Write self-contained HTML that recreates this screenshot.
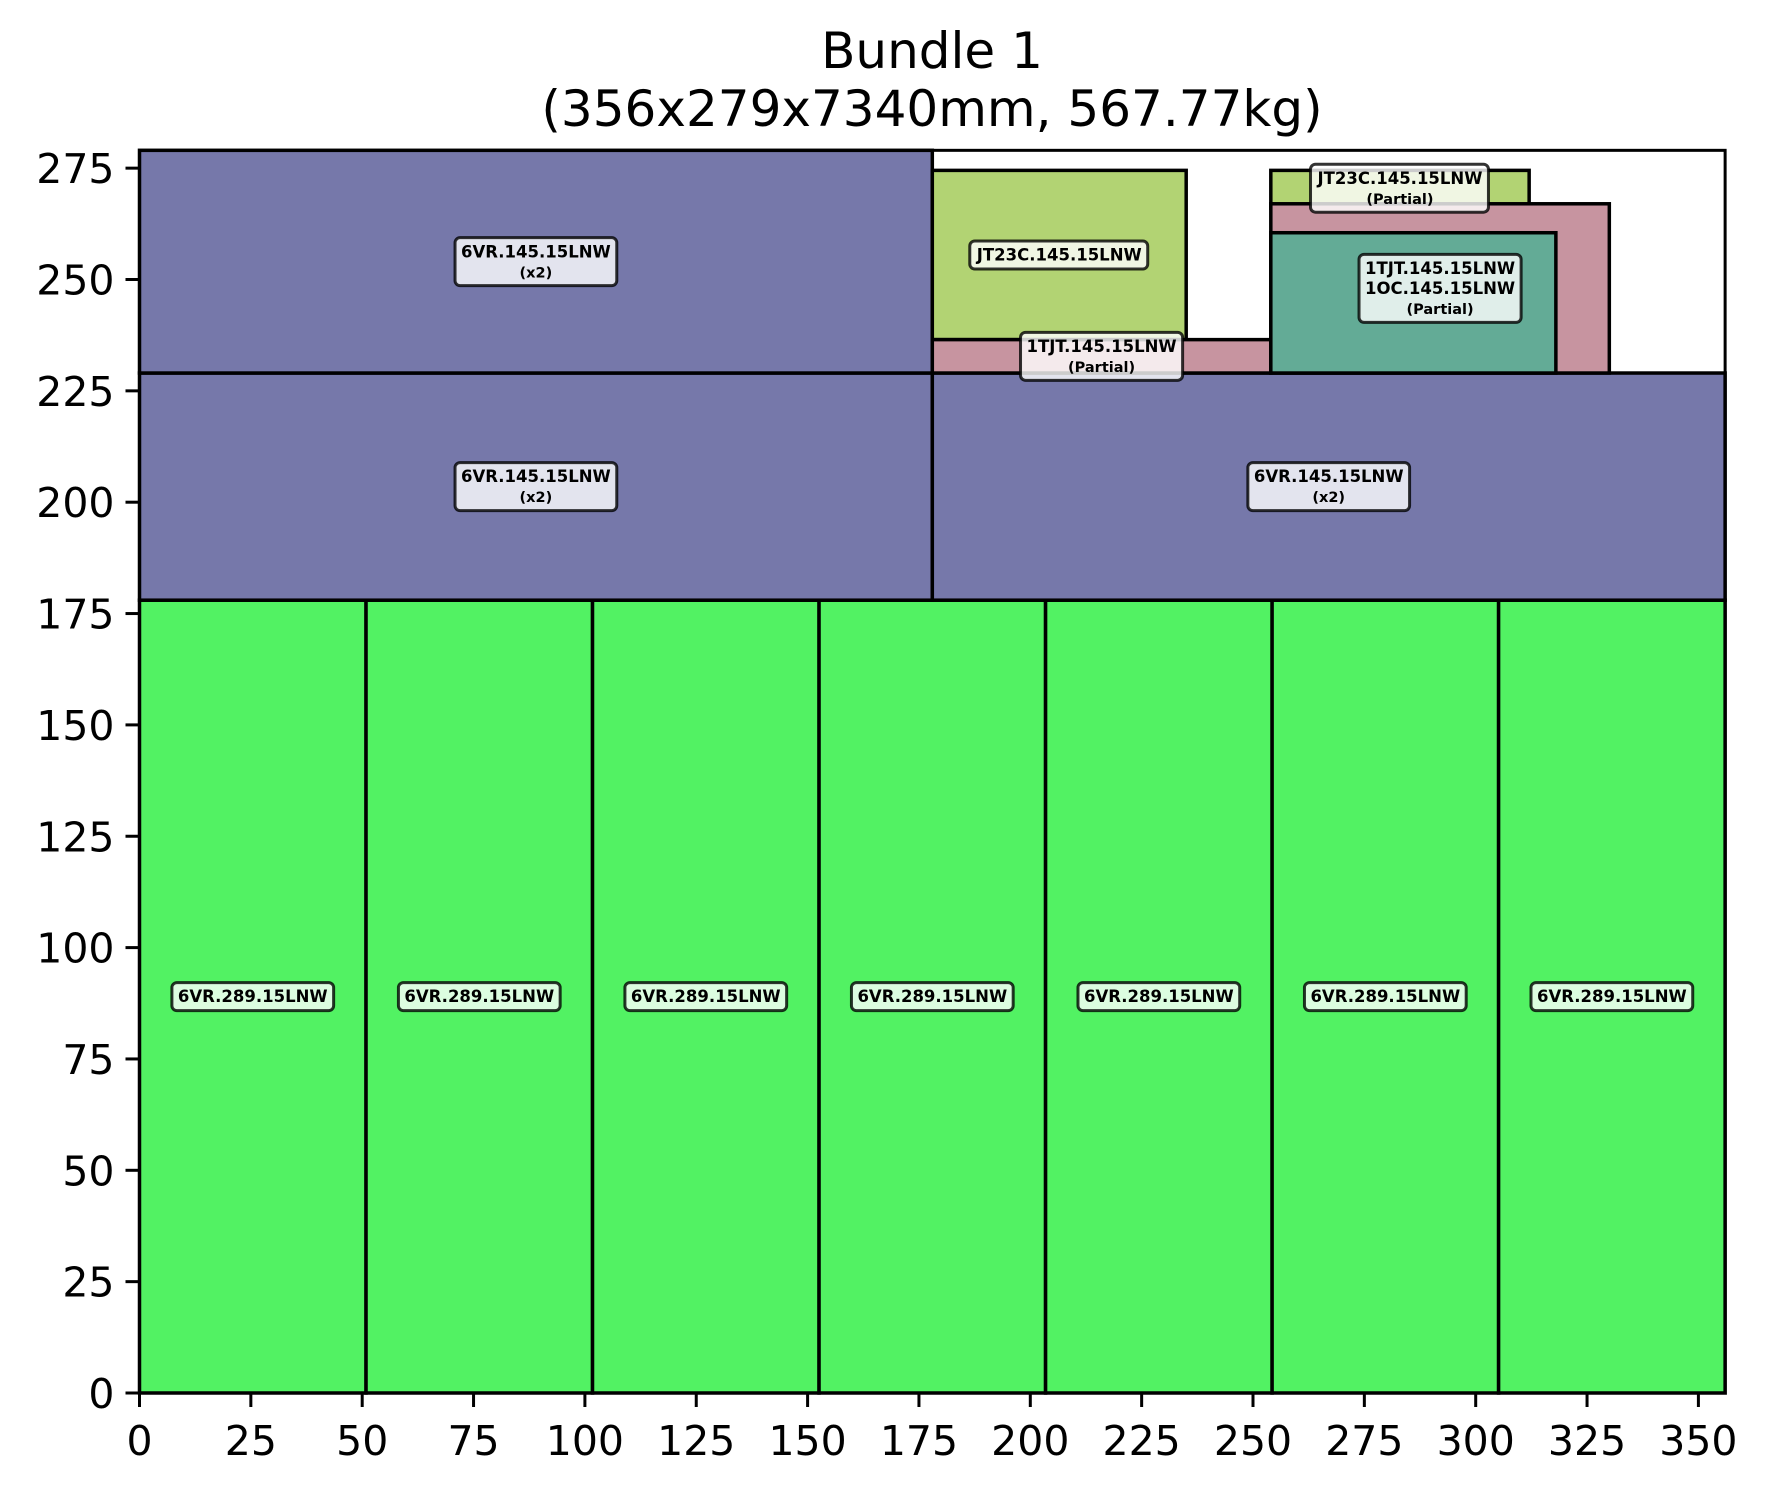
<!DOCTYPE html>
<html><head><meta charset="utf-8"><style>
html,body{margin:0;padding:0;background:#fff;}
svg text{font-family:"DejaVu Sans","Liberation Sans",sans-serif;}
</style></head><body>
<svg id="chart" xmlns="http://www.w3.org/2000/svg" width="1767" height="1494" viewBox="0 0 1767 1494">
<rect x="0" y="0" width="1767" height="1494" fill="#fff"/>
<text x="932" y="68" font-size="50" text-anchor="middle">Bundle 1</text>
<text x="932" y="126" font-size="50" text-anchor="middle">(356x279x7340mm, 567.77kg)</text>
<g id="plot"></g>
<g id="labels"></g>
<g id="axes"></g>
</svg>
<script>
const rectX = [0, 50.86, 101.71, 152.57, 203.43, 254.29, 305.14, 0, 178, 0, 178, 178, 254, 254, 254];
const rectY = [0, 0, 0, 0, 0, 0, 0, 178, 178, 229, 236.5, 229, 266, 229, 229];
const rectW = [50.86, 50.86, 50.86, 50.86, 50.86, 50.86, 50.86, 178, 178, 178, 57, 76, 58, 76, 64];
const rectH = [178, 178, 178, 178, 178, 178, 178, 51, 51, 50, 38, 7.5, 8.5, 38, 31.5];
const rectColor = ["#52f263","#52f263","#52f263","#52f263","#52f263","#52f263","#52f263","#7678aa","#7678aa","#7678aa","#b2d373","#c794a0","#b2d373","#c794a0","#63ab96"];
const labelText = ["6VR.289.15LNW","6VR.289.15LNW","6VR.289.15LNW","6VR.289.15LNW","6VR.289.15LNW","6VR.289.15LNW","6VR.289.15LNW","6VR.145.15LNW\n(x2)","6VR.145.15LNW\n(x2)","6VR.145.15LNW\n(x2)","JT23C.145.15LNW","1TJT.145.15LNW\n(Partial)","JT23C.145.15LNW\n(Partial)","1TJT.145.15LNW\n1OC.145.15LNW\n(Partial)"];
const labelX = [25.43, 76.29, 127.14, 178, 228.86, 279.71, 330.57, 89, 267, 89, 206.5, 216, 283, 292];
const labelY = [89, 89, 89, 89, 89, 89, 89, 203.5, 203.5, 254, 255.5, 232.75, 270.5, 248];
const xTicks = [0,25,50,75,100,125,150,175,200,225,250,275,300,325,350];
const yTicks = [0,25,50,75,100,125,150,175,200,225,250,275];

const NS="http://www.w3.org/2000/svg";
const X0=139.5, Y0=1393, S=4.454, XMAX=356, YMAX=279;
function sx(v){return X0+v*S;}
function sy(v){return Y0-v*S;}
function mk(t,a,p){const e=document.createElementNS(NS,t);for(const k in a)e.setAttribute(k,a[k]);p.appendChild(e);return e;}
const plot=document.getElementById('plot'), labels=document.getElementById('labels'), axes=document.getElementById('axes');

for(let i=0;i<rectX.length;i++){
  const r=mk('rect',{x:sx(rectX[i]),y:sy(rectY[i]+rectH[i]),width:rectW[i]*S,height:rectH[i]*S,fill:rectColor[i],stroke:'#000','stroke-width':3.5},plot);
  
  
}
for(let i=0;i<labelText.length;i++){
  const g=mk('g',{},labels);
  
  
  const lines=labelText[i].split('\n');
  const lh=20, fs=16.5;
  const cx=sx(labelX[i]), cy=sy(labelY[i]);
  const box=mk('rect',{rx:5,ry:5,fill:'#fff','fill-opacity':0.8,stroke:'#000','stroke-opacity':0.8,'stroke-width':3},g);
  const t=mk('text',{'font-size':fs,'font-weight':'bold','text-anchor':'middle',fill:'#000'},g);
  const top=cy-lines.length*lh/2;
  lines.forEach((l,k)=>{const ts=mk('tspan',{x:cx,y:top+lh*k+lh*0.78,'font-size':k>0&&l.startsWith('(')?14.5:fs},t);ts.textContent=l;});
  const bb=t.getBBox();
  box.setAttribute('x',bb.x-6);box.setAttribute('y',top-4);
  box.setAttribute('width',bb.width+12);box.setAttribute('height',lines.length*lh+8);
}
const frame=mk('rect',{x:sx(0),y:sy(YMAX),width:XMAX*S,height:YMAX*S,fill:'none',stroke:'#000','stroke-width':3},axes);


xTicks.forEach(v=>{
  const l=mk('line',{x1:sx(v),x2:sx(v),y1:Y0,y2:Y0+14,stroke:'#000','stroke-width':3},axes);
  
  
  const t=mk('text',{x:sx(v),y:Y0+62,'font-size':41,'text-anchor':'middle'},axes);
  
  
  t.textContent=v;
});
yTicks.forEach(v=>{
  const l=mk('line',{x1:X0-14,x2:X0,y1:sy(v),y2:sy(v),stroke:'#000','stroke-width':3},axes);
  
  
  const t=mk('text',{x:X0-25,y:sy(v)+15,'font-size':41,'text-anchor':'end'},axes);
  
  
  t.textContent=v;
});
</script>
</body></html>
